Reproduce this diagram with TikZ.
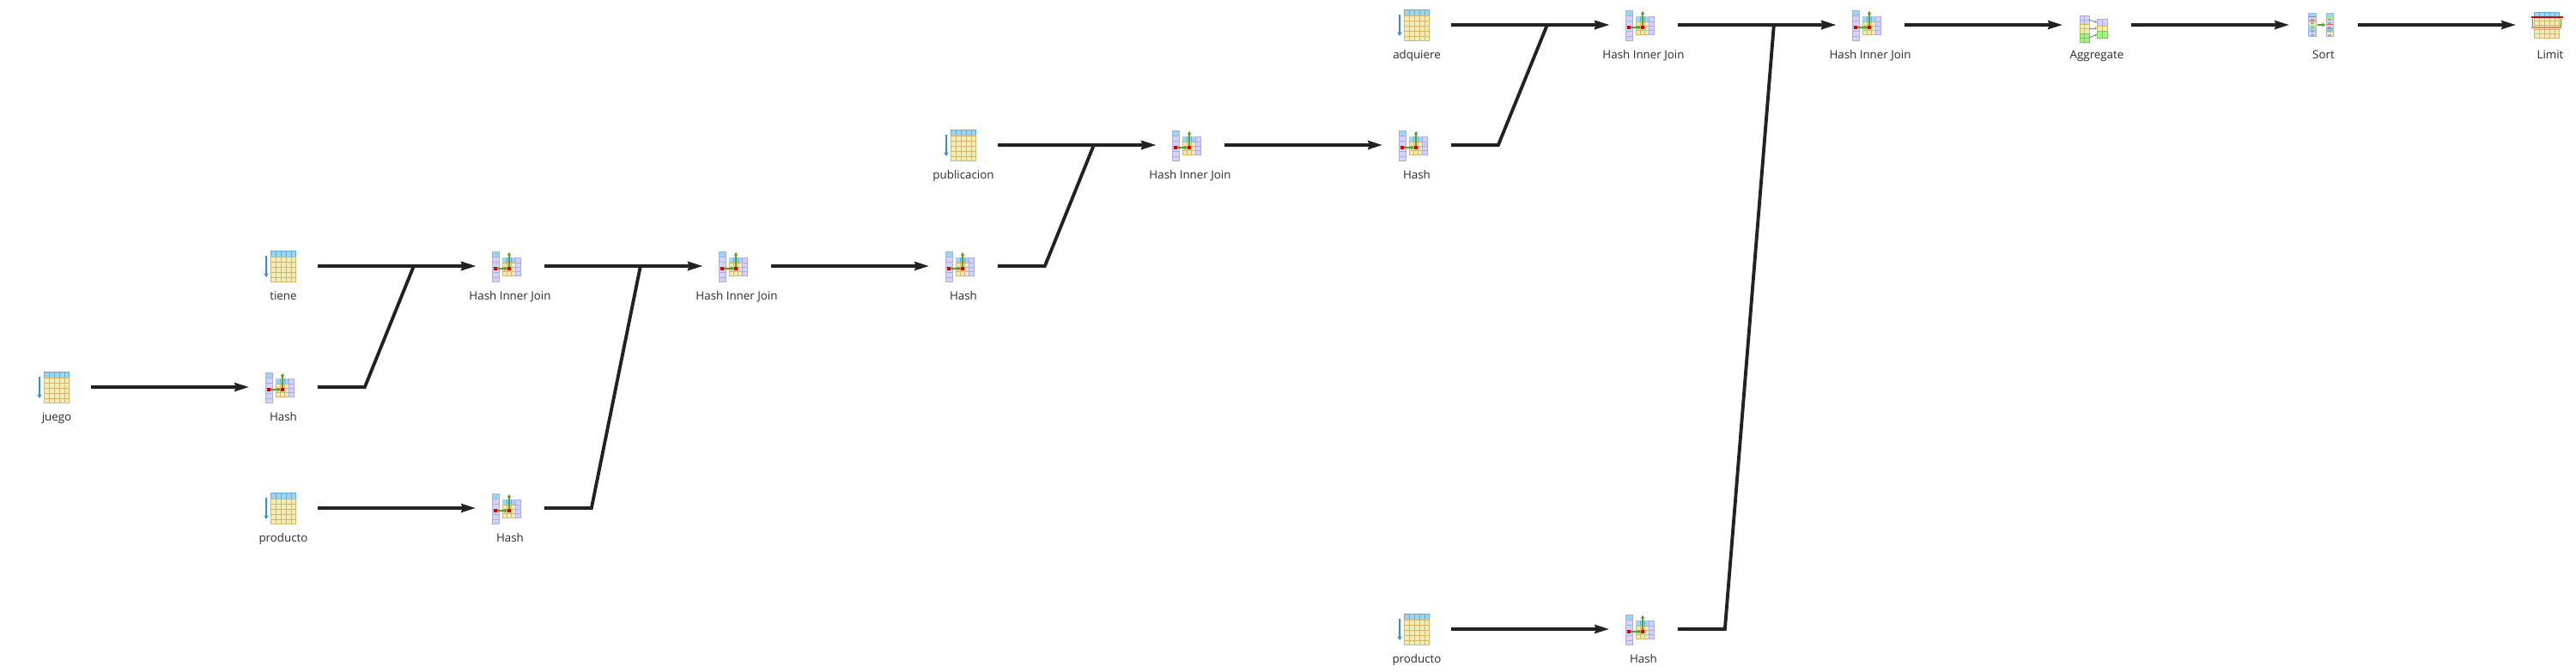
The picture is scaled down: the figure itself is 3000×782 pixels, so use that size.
\documentclass[tikz,border=0pt]{standalone}
\usepackage{fontspec}
\setmainfont{Open Sans}
\usetikzlibrary{arrows.meta}

\definecolor{headblue}{HTML}{9BD5F2}
\definecolor{headedge}{HTML}{62ACD6}
\definecolor{bodytan}{HTML}{F3ECB4}
\definecolor{bodyedge}{HTML}{D8B468}
\definecolor{colpurple}{HTML}{D2D2FA}
\definecolor{coledge}{HTML}{ACACE8}
\definecolor{colgreen}{HTML}{A8F08C}
\definecolor{greenedge}{HTML}{74CC4E}
\definecolor{scanblue}{HTML}{3A8FC7}
\definecolor{opgreen}{HTML}{5F9A30}
\definecolor{opred}{HTML}{DD0000}
\definecolor{opsalmon}{HTML}{E88B7A}
\definecolor{linkgray}{HTML}{222222}
\definecolor{textgray}{HTML}{2A2A2A}

\tikzset{
  opnode/.style={minimum width=45.36pt,minimum height=28.35pt,inner sep=0,outer sep=0},
  optext/.style={minimum width=0pt,minimum height=0pt,font=\fontsize{7.6}{8}\selectfont,text=textgray,inner sep=0,
                 text height=6pt,text depth=1.5pt},
  link/.style={draw=linkgray,line width=2.2pt,
               -{Stealth[length=9.6pt,width=5.6pt,inset=1pt]}},
  gridline/.style={draw=bodyedge,line width=0.45pt},
  pics/tablegrid/.style={code={
    \fill[bodytan] (-15,-11) rectangle (14,18);
    \fill[headblue] (-15,-18) rectangle (14,-11);
    \foreach \gx in {-9,-3,3,9} {
      \draw[draw=headedge,line width=0.45pt] (\gx,-18) -- (\gx,-11);
      \draw[gridline] (\gx,-11) -- (\gx,18);
    }
    \foreach \gy in {-5,1,7,13}
      \draw[gridline] (-15,\gy) -- (14,\gy);
    \draw[draw=headedge,line width=0.5pt] (-15,-18) rectangle (14,-11);
    \draw[gridline] (-15,-11) rectangle (14,18);
  }},
  pics/scanicon/.style={code={
    \pic {tablegrid};
    \draw[draw=scanblue,line width=1pt,-{Stealth[length=2.6pt,width=3.2pt]}] (-20,-12) -- (-20,13);
  }},
  pics/hashicon/.style={code={
    \fill[colpurple] (-21,-17) rectangle (-13,18);
    \fill[headblue] (-21,-17) rectangle (-13,-11);
    \foreach \gy in {-11,-5,1,7,13}
      \draw[draw=coledge,line width=0.45pt] (-21,\gy) -- (-13,\gy);
    \draw[draw=coledge,line width=0.5pt] (-21,-17) rectangle (-13,18);
    \fill[bodytan] (-9,-4) rectangle (6,11);
    \fill[colpurple] (6,-10) rectangle (12,11);
    \fill[headblue] (-9,-10) rectangle (6,-4);
    \foreach \gx in {-4,1} {
      \draw[gridline] (\gx,-4) -- (\gx,11);
      \draw[draw=headedge,line width=0.4pt] (\gx,-10) -- (\gx,-4);
    }
    \foreach \gy in {1,6}
      \draw[gridline] (-9,\gy) -- (6,\gy);
    \foreach \gy in {-4,1,6}
      \draw[draw=coledge,line width=0.4pt] (6,\gy) -- (12,\gy);
    \draw[gridline] (-9,-4) rectangle (6,11);
    \draw[draw=coledge,line width=0.5pt] (6,-10) rectangle (12,11);
    \fill[opred] (-19,1) rectangle (-15,5);
    \fill[opred] (-3,1) rectangle (1,5);
    \draw[draw=opgreen,line width=0.8pt,-{Stealth[length=2.2pt,width=2.8pt]}] (-15,3) -- (-3,3);
    \draw[draw=opgreen,line width=0.8pt,-{Stealth[length=2.2pt,width=2.8pt]}] (-1,1) -- (-1,-16);
  }},
  pics/aggicon/.style={code={
    \fill[colpurple] (-20,-11) rectangle (-9,-1);
    \fill[bodytan] (-20,-1) rectangle (-9,10);
    \fill[colgreen] (-20,10) rectangle (-9,20);
    \fill[colpurple] (0,-7) rectangle (12,1);
    \fill[bodytan] (0,1) rectangle (12,7);
    \fill[colgreen] (0,7) rectangle (12,15);
    \draw[draw=coledge,line width=0.45pt] (-20,-11) rectangle (-9,-1) (-14.5,-11) -- (-14.5,-1) (-20,-6) -- (-9,-6);
    \draw[gridline] (-20,-1) rectangle (-9,10) (-14.5,-1) -- (-14.5,10) (-20,4.5) -- (-9,4.5);
    \draw[draw=greenedge,line width=0.45pt] (-20,10) rectangle (-9,20) (-14.5,10) -- (-14.5,20) (-20,15) -- (-9,15);
    \draw[draw=coledge,line width=0.45pt] (0,-7) rectangle (12,1) (6,-7) -- (6,1);
    \draw[gridline] (0,1) rectangle (12,7) (6,1) -- (6,7);
    \draw[draw=greenedge,line width=0.45pt] (0,7) rectangle (12,15) (6,7) -- (6,15);
    \foreach \gy/\hy in {-6/-3,4/4,15/11}
      \draw[draw=gray,line width=0.5pt,-{Stealth[length=1.6pt,width=1.8pt]}] (-9,\gy) -- (0,\hy);
  }},
  pics/sorticon/.style={code={
    \foreach \sy/\scol in {-14/headblue,-9.5/colpurple,-5/bodytan,-0.5/colgreen,4/headblue,8.5/colpurple}
      \fill[\scol] (-18,\sy) rectangle (-9,\sy+4.5);
    \foreach \sy/\scol in {-14/headblue,-9.5/colgreen,-5/colpurple,-0.5/colpurple,4/headblue,8.5/bodytan}
      \fill[\scol] (3,\sy) rectangle (11,\sy+4.5);
    \foreach \sy in {-7.5,-3,1.5,6,10.5} {
      \fill[gray!70] (-15.5,\sy) rectangle (-11.5,\sy+2);
      \fill[gray!70] (5,\sy) rectangle (9,\sy+2);
    }
    \draw[draw=opred!60,line width=0.5pt] (-18,-9.5) rectangle (-9,-5) (3,-0.5) rectangle (11,4);
    \draw[draw=coledge,line width=0.4pt] (-18,-14) rectangle (-9,13) (3,-14) rectangle (11,13);
    \draw[draw=opgreen,line width=1pt,-{Stealth[length=2pt,width=3pt]}] (-7,0) -- (2,0);
  }},
  pics/limiticon/.style={code={
    \pic[shift={(-3.5,0)},yscale=0.83] {tablegrid};
    \draw[draw=opred,line width=0.7pt] (-22,-9) -- (15,-9);
    \fill[opsalmon] (-22,2) rectangle (13,4);
    \draw[draw=opgreen,line width=0.6pt] (-21,-7) -- (-21,2) (12,-7) -- (12,2);
  }},
}

\begin{document}
\begin{tikzpicture}[x=0.02cm,y=-0.02cm]
\useasboundingbox (0,0) rectangle (3000,782);

\begin{scope}[every node/.style={opnode},every label/.style={optext,label distance=2.5pt}]
    \node[label=below:juego] (juego) at (66,451) {};
    \node[label=below:tiene] (tiene) at (330,310) {};
    \node[label=below:Hash] (hashJuego) at (330,451) {};
    \node[label=below:producto] (productoA) at (330,592) {};
    \node[label=below:Hash Inner Join] (joinTiene) at (594,310) {};
    \node[label=below:Hash] (hashProductoA) at (594,592) {};
    \node[label=below:Hash Inner Join] (joinProductoA) at (858,310) {};
    \node[label=below:Hash] (hashJoinA) at (1122,310) {};
    \node[label=below:publicacion] (publicacion) at (1122,169) {};
    \node[label=below:Hash Inner Join] (joinPublicacion) at (1386,169) {};
    \node[label=below:Hash] (hashPublicacion) at (1650,169) {};
    \node[label=below:adquiere] (adquiere) at (1650,29) {};
    \node[label=below:producto] (productoB) at (1650,733) {};
    \node[label=below:Hash Inner Join] (joinAdquiere) at (1914,29) {};
    \node[label=below:Hash] (hashProductoB) at (1914,733) {};
    \node[label=below:Hash Inner Join] (joinProductoB) at (2178,29) {};
    \node[label=below:Aggregate] (aggregate) at (2442,29) {};
    \node[label=below:Sort] (sort) at (2706,29) {};
    \node[label=below:Limit] (limit) at (2970,29) {};
\end{scope}

\pic at (juego) {scanicon};
\pic at (tiene) {scanicon};
\pic at (productoA) {scanicon};
\pic at (publicacion) {scanicon};
\pic at (adquiere) {scanicon};
\pic at (productoB) {scanicon};
\pic at (hashJuego) {hashicon};
\pic at (joinTiene) {hashicon};
\pic at (hashProductoA) {hashicon};
\pic at (joinProductoA) {hashicon};
\pic at (hashJoinA) {hashicon};
\pic at (joinPublicacion) {hashicon};
\pic at (hashPublicacion) {hashicon};
\pic at (joinAdquiere) {hashicon};
\pic at (hashProductoB) {hashicon};
\pic at (joinProductoB) {hashicon};
\pic at (aggregate) {aggicon};
\pic at (sort) {sorticon};
\pic at (limit) {limiticon};

\begin{scope}[every path/.style={link}]
    \path (juego.east) -- (hashJuego.west);
    \path (tiene.east) -- (joinTiene.west);
    \path (hashJuego.east) -- ++(55,0) -- ++(57,-141) -- (joinTiene.west);
    \path (productoA.east) -- (hashProductoA.west);
    \path (joinTiene.east) -- (joinProductoA.west);
    \path (hashProductoA.east) -- ++(55,0) -- ++(57,-282) -- (joinProductoA.west);
    \path (joinProductoA.east) -- (hashJoinA.west);
    \path (publicacion.east) -- (joinPublicacion.west);
    \path (hashJoinA.east) -- ++(55,0) -- ++(57,-141) -- (joinPublicacion.west);
    \path (joinPublicacion.east) -- (hashPublicacion.west);
    \path (adquiere.east) -- (joinAdquiere.west);
    \path (hashPublicacion.east) -- ++(55,0) -- ++(57,-140) -- (joinAdquiere.west);
    \path (productoB.east) -- (hashProductoB.west);
    \path (joinAdquiere.east) -- (joinProductoB.west);
    \path (hashProductoB.east) -- ++(55,0) -- ++(57,-704) -- (joinProductoB.west);
    \path (joinProductoB.east) -- (aggregate.west);
    \path (aggregate.east) -- (sort.west);
    \path (sort.east) -- (limit.west);
\end{scope}
\end{tikzpicture}
\end{document}
